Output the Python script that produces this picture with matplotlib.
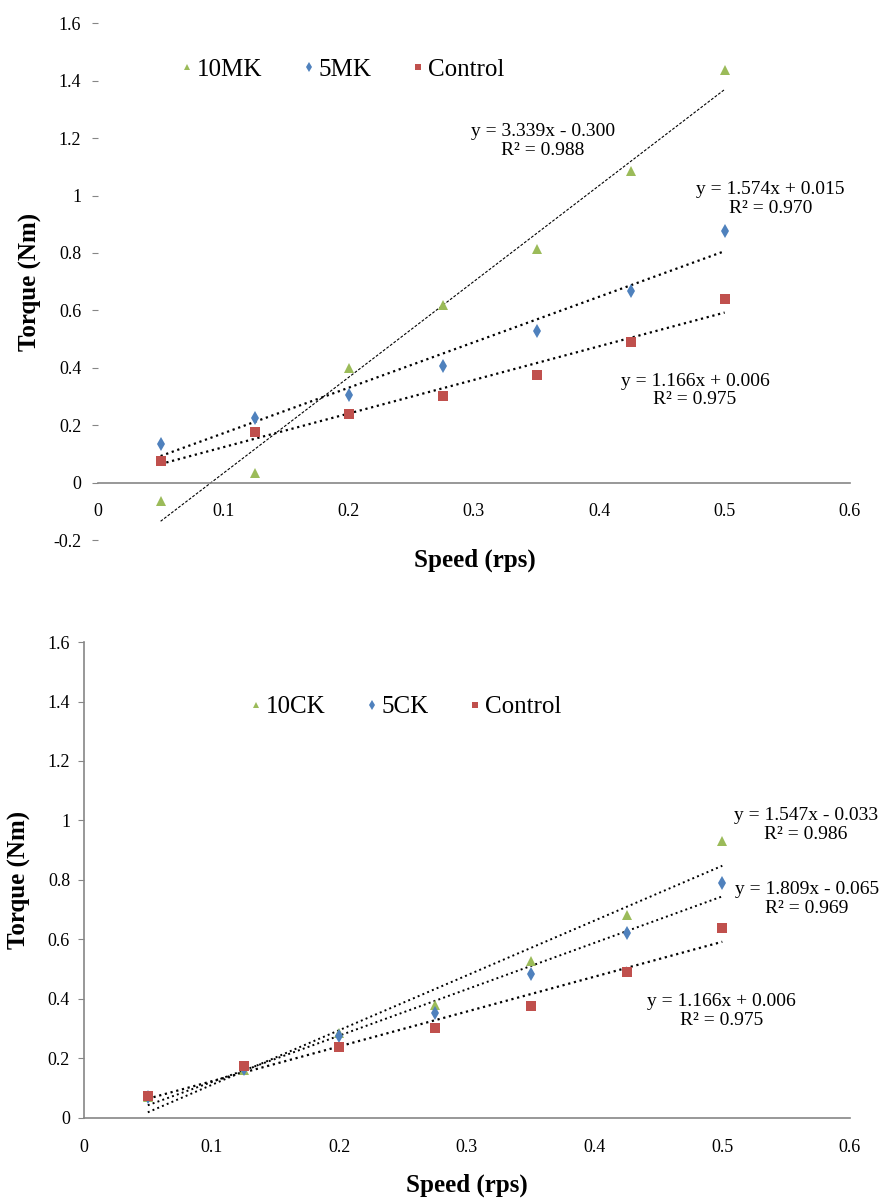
import numpy as np
import matplotlib
matplotlib.use("Agg")
import matplotlib.pyplot as plt
from matplotlib.ticker import FuncFormatter

plt.rcParams['font.family'] = ['Liberation Serif', 'DejaVu Serif']

# speed (rps)
speed = [0.05, 0.125, 0.2, 0.275, 0.35, 0.425, 0.5]

# torque (Nm)
torque_10mk = [-0.065, 0.035, 0.40, 0.618, 0.812, 1.085, 1.437]
torque_5mk = [0.135, 0.226, 0.306, 0.406, 0.529, 0.668, 0.876]
torque_control = [0.075, 0.176, 0.239, 0.303, 0.376, 0.491, 0.640]
torque_10ck = [0.070, 0.160, 0.284, 0.380, 0.528, 0.682, 0.930]
torque_5ck = [0.070, 0.165, 0.275, 0.354, 0.483, 0.621, 0.789]

eq_10mk = "y = 3.339x - 0.300\nR² = 0.988"
eq_5mk = "y = 1.574x + 0.015\nR² = 0.970"
eq_control = "y = 1.166x + 0.006\nR² = 0.975"
eq_10ck = "y = 1.547x - 0.033\nR² = 0.986"
eq_5ck = "y = 1.809x - 0.065\nR² = 0.969"

GREEN = "#9BBB59"
BLUE = "#4F81BD"
RED = "#C0504D"
AXIS = "#868686"


def trend(ax, x, y, **kw):
    k, b = np.polyfit(x, y, 1)
    xs = np.array([x[0], x[-1]])
    ax.plot(xs, k * xs + b, color="black", zorder=2, **kw)


def series(ax, x, y, marker, color, ms, label):
    ax.plot(x, y, linestyle="none", marker=marker, color=color,
            markersize=ms, markeredgewidth=0, label=label, zorder=3)


def style_axes(ax, ymin):
    ax.set_xlim(0, 0.6)
    ax.set_ylim(ymin, 1.6)
    ax.set_xticks(np.arange(0, 0.61, 0.1))
    ax.set_yticks(np.arange(ymin, 1.61, 0.2))
    fmt = FuncFormatter(lambda v, p: "{:g}".format(round(v, 1)))
    ax.xaxis.set_major_formatter(fmt)
    ax.yaxis.set_major_formatter(fmt)
    for s in ["top", "right"]:
        ax.spines[s].set_visible(False)
    ax.spines["bottom"].set_position(("data", 0))
    ax.spines["bottom"].set_color(AXIS)
    ax.spines["bottom"].set_linewidth(1.2)
    ax.spines["left"].set_color(AXIS)
    ax.tick_params(axis="x", length=0, pad=15, labelsize=13)
    ax.tick_params(axis="y", length=4, width=0.8, color=AXIS, labelsize=13)


def add_legend(ax, anchor):
    ax.legend(loc="center", bbox_to_anchor=anchor, ncol=3, frameon=False,
              fontsize=18, handlelength=0.5, handletextpad=0.15,
              columnspacing=1.6, markerscale=0.7)


fig = plt.figure(figsize=(8.81, 11.98), dpi=100)

# ---- top chart: MK ----
ax1 = fig.add_axes([0.1112, 0.5492, 0.8536, 0.4314])
style_axes(ax1, -0.2)
ax1.spines["left"].set_visible(False)
ax1.tick_params(axis="y", pad=8)
series(ax1, speed, torque_10mk, "^", GREEN, 6.5, "10MK")
series(ax1, speed, torque_5mk, "d", BLUE, 7, "5MK")
series(ax1, speed, torque_control, "s", RED, 6.5, "Control")
trend(ax1, speed, torque_10mk, linestyle=(0, (2.5, 1.5)), linewidth=0.8)
trend(ax1, speed, torque_5mk, linestyle=":", linewidth=1.6)
trend(ax1, speed, torque_control, linestyle=":", linewidth=1.6)
ax1.text(0.592, 0.772, eq_10mk, transform=ax1.transAxes, ha="center",
         va="center", fontsize=14, linespacing=1.1)
ax1.text(0.894, 0.660, eq_5mk, transform=ax1.transAxes, ha="center",
         va="center", fontsize=14, linespacing=1.1)
ax1.text(0.794, 0.290, eq_control, transform=ax1.transAxes, ha="center",
         va="center", fontsize=14, linespacing=1.1)
add_legend(ax1, (0.325, 0.9096))
ax1.set_xlabel("Speed (rps)", fontsize=18, fontweight="bold")
ax1.xaxis.set_label_coords(0.501, -0.0387)
ax1.xaxis.label.set_va("center")
ax1.set_ylabel("Torque (Nm)", fontsize=18, fontweight="bold")
ax1.yaxis.set_label_coords(-0.09, 0.5)
ax1.yaxis.label.set_va("center")

# ---- bottom chart: CK ----
ax2 = fig.add_axes([0.0953, 0.0668, 0.8695, 0.3973])
style_axes(ax2, 0.0)
ax2.spines["left"].set_linewidth(1.2)
ax2.tick_params(axis="y", pad=6)
series(ax2, speed, torque_10ck, "^", GREEN, 6.5, "10CK")
series(ax2, speed, torque_5ck, "d", BLUE, 7, "5CK")
series(ax2, speed, torque_control, "s", RED, 6.5, "Control")
trend(ax2, speed, torque_10ck, linestyle=":", linewidth=1.4)
trend(ax2, speed, torque_5ck, linestyle=":", linewidth=1.4)
trend(ax2, speed, torque_control, linestyle=":", linewidth=1.6)
ax2.text(0.9426, 0.6155, eq_10ck, transform=ax2.transAxes, ha="center",
         va="center", fontsize=14, linespacing=1.1)
ax2.text(0.944, 0.460, eq_5ck, transform=ax2.transAxes, ha="center",
         va="center", fontsize=14, linespacing=1.1)
ax2.text(0.832, 0.2248, eq_control, transform=ax2.transAxes, ha="center",
         va="center", fontsize=14, linespacing=1.1)
add_legend(ax2, (0.42, 0.863))
ax2.set_xlabel("Speed (rps)", fontsize=18, fontweight="bold")
ax2.xaxis.set_label_coords(0.5, -0.141)
ax2.xaxis.label.set_va("center")
ax2.set_ylabel("Torque (Nm)", fontsize=18, fontweight="bold")
ax2.yaxis.set_label_coords(-0.0836, 0.5)
ax2.yaxis.label.set_va("center")

fig.savefig("out.png", dpi=100)
